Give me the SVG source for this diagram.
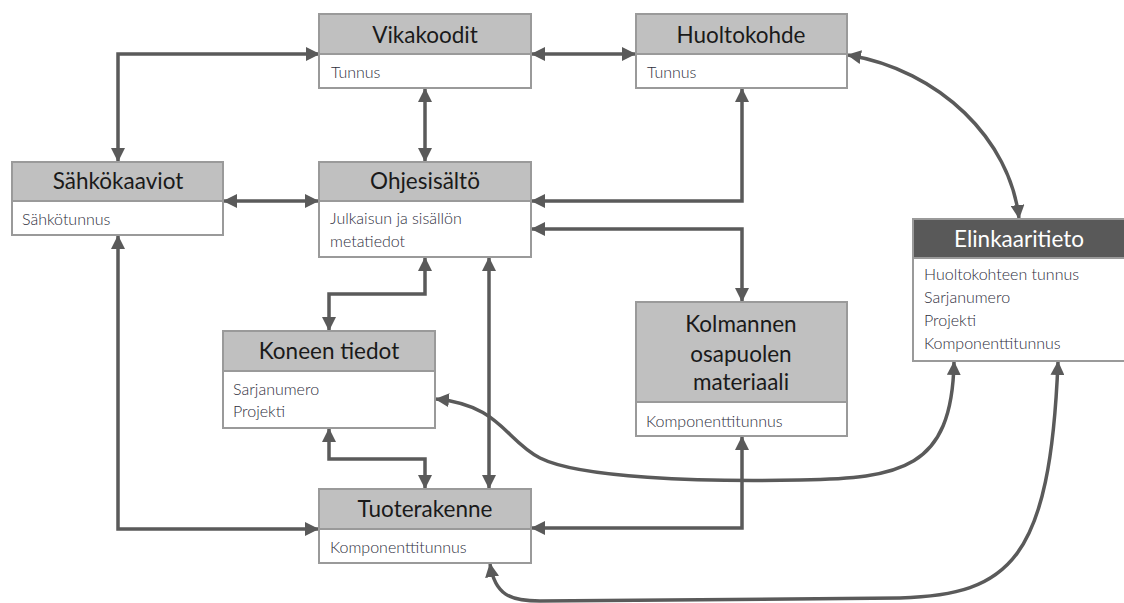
<svg xmlns="http://www.w3.org/2000/svg" width="1124" height="603" viewBox="0 0 1124 603">
<style>
.hd{fill:#c0c0c0;stroke:#9a9a9a;stroke-width:2}
.hdd{fill:#595959;stroke:#9a9a9a;stroke-width:2}
.bd{fill:#ffffff;stroke:#9a9a9a;stroke-width:2}
.t{font-family:Lato,"Open Sans","Liberation Sans",sans-serif;font-size:22.5px;fill:#1a1a1a;text-anchor:middle}
.tw{font-family:Lato,"Open Sans","Liberation Sans",sans-serif;font-size:22.5px;fill:#ffffff;text-anchor:middle}
.b{font-family:Lato,"Open Sans","Liberation Sans",sans-serif;font-size:16px;font-weight:300;fill:#2e2e3c}
.c{fill:none;stroke:#5a5a5a;stroke-width:3.5}
</style>
<defs>
<marker id="a" viewBox="0 0 14 14" refX="13" refY="7" markerWidth="14" markerHeight="14" orient="auto-start-reverse" markerUnits="userSpaceOnUse">
<path d="M0,0 L14,7 L0,14 z" fill="#5a5a5a"/>
</marker>
</defs>
<rect width="1124" height="603" fill="#ffffff"/>
<g id="connectors">
<path class="c" d="M319,54 H118 V161" marker-start="url(#a)" marker-end="url(#a)"/>
<path class="c" d="M532,54 H635" marker-start="url(#a)" marker-end="url(#a)"/>
<path class="c" d="M425,89 V161" marker-start="url(#a)" marker-end="url(#a)"/>
<path class="c" d="M224,201 H318" marker-start="url(#a)" marker-end="url(#a)"/>
<path class="c" d="M742,89 V201 H532" marker-start="url(#a)" marker-end="url(#a)"/>
<path class="c" d="M532,229 H742 V301" marker-start="url(#a)" marker-end="url(#a)"/>
<path class="c" d="M425,258 V294 H329 V330" marker-start="url(#a)" marker-end="url(#a)"/>
<path class="c" d="M489,258 V488" marker-start="url(#a)" marker-end="url(#a)"/>
<path class="c" d="M118,236 V529 H318" marker-start="url(#a)" marker-end="url(#a)"/>
<path class="c" d="M329,429 V459 H425 V488" marker-start="url(#a)" marker-end="url(#a)"/>
<path class="c" d="M742,437 V528 H532" marker-start="url(#a)" marker-end="url(#a)"/>
<path class="c" d="M436,399 C500,405 505,440 540,458 C580,478 700,482 800,480 C900,478 952,470 954,362" marker-start="url(#a)" marker-end="url(#a)"/>
<path class="c" d="M490,564 C495,595 510,601 540,601 L900,598 C1010,595 1050,560 1058,362" marker-start="url(#a)" marker-end="url(#a)"/>
<path class="c" d="M848,55 C940,70 1010,140 1019,218" marker-start="url(#a)" marker-end="url(#a)"/>
</g>
<g id="vikakoodit">
<rect class="bd" x="319" y="54" width="212" height="34"/>
<rect class="hd" x="319" y="14" width="212" height="40"/>
<text class="t" x="425" y="43">Vikakoodit</text>
<text class="b" x="331" y="78">Tunnus</text>
</g>
<g id="huoltokohde">
<rect class="bd" x="636" y="54" width="211" height="34"/>
<rect class="hd" x="636" y="14" width="211" height="40"/>
<text class="t" x="741" y="43">Huoltokohde</text>
<text class="b" x="647" y="78">Tunnus</text>
</g>
<g id="sahkokaaviot">
<rect class="bd" x="12" y="201" width="211" height="34"/>
<rect class="hd" x="12" y="162" width="211" height="39"/>
<text class="t" x="118" y="189">Sähkökaaviot</text>
<text class="b" x="22" y="225">Sähkötunnus</text>
</g>
<g id="ohjesisalto">
<rect class="bd" x="319" y="201" width="212" height="56"/>
<rect class="hd" x="319" y="162" width="212" height="39"/>
<text class="t" x="425" y="189">Ohjesisältö</text>
<text class="b" x="330" y="224">Julkaisun ja sisällön</text>
<text class="b" x="330" y="247">metatiedot</text>
</g>
<g id="koneen-tiedot">
<rect class="bd" x="223" y="371" width="212" height="57"/>
<rect class="hd" x="223" y="331" width="212" height="40"/>
<text class="t" x="329" y="359">Koneen tiedot</text>
<text class="b" x="233" y="395">Sarjanumero</text>
<text class="b" x="233" y="417">Projekti</text>
</g>
<g id="kolmannen">
<rect class="bd" x="636" y="402" width="211" height="34"/>
<rect class="hd" x="636" y="302" width="211" height="100"/>
<text class="t" x="741" y="332">Kolmannen</text>
<text class="t" x="741" y="362">osapuolen</text>
<text class="t" x="741" y="390">materiaali</text>
<text class="b" x="646" y="427">Komponenttitunnus</text>
</g>
<g id="tuoterakenne">
<rect class="bd" x="319" y="529" width="212" height="34"/>
<rect class="hd" x="319" y="489" width="212" height="40"/>
<text class="t" x="425" y="517">Tuoterakenne</text>
<text class="b" x="330" y="553">Komponenttitunnus</text>
</g>
<g id="elinkaaritieto">
<rect class="bd" x="913" y="258" width="220" height="103"/>
<rect class="hdd" x="913" y="219" width="220" height="39"/>
<text class="tw" x="1019" y="247">Elinkaaritieto</text>
<text class="b" x="924" y="280">Huoltokohteen tunnus</text>
<text class="b" x="924" y="303">Sarjanumero</text>
<text class="b" x="924" y="326">Projekti</text>
<text class="b" x="924" y="349">Komponenttitunnus</text>
</g>
</svg>
